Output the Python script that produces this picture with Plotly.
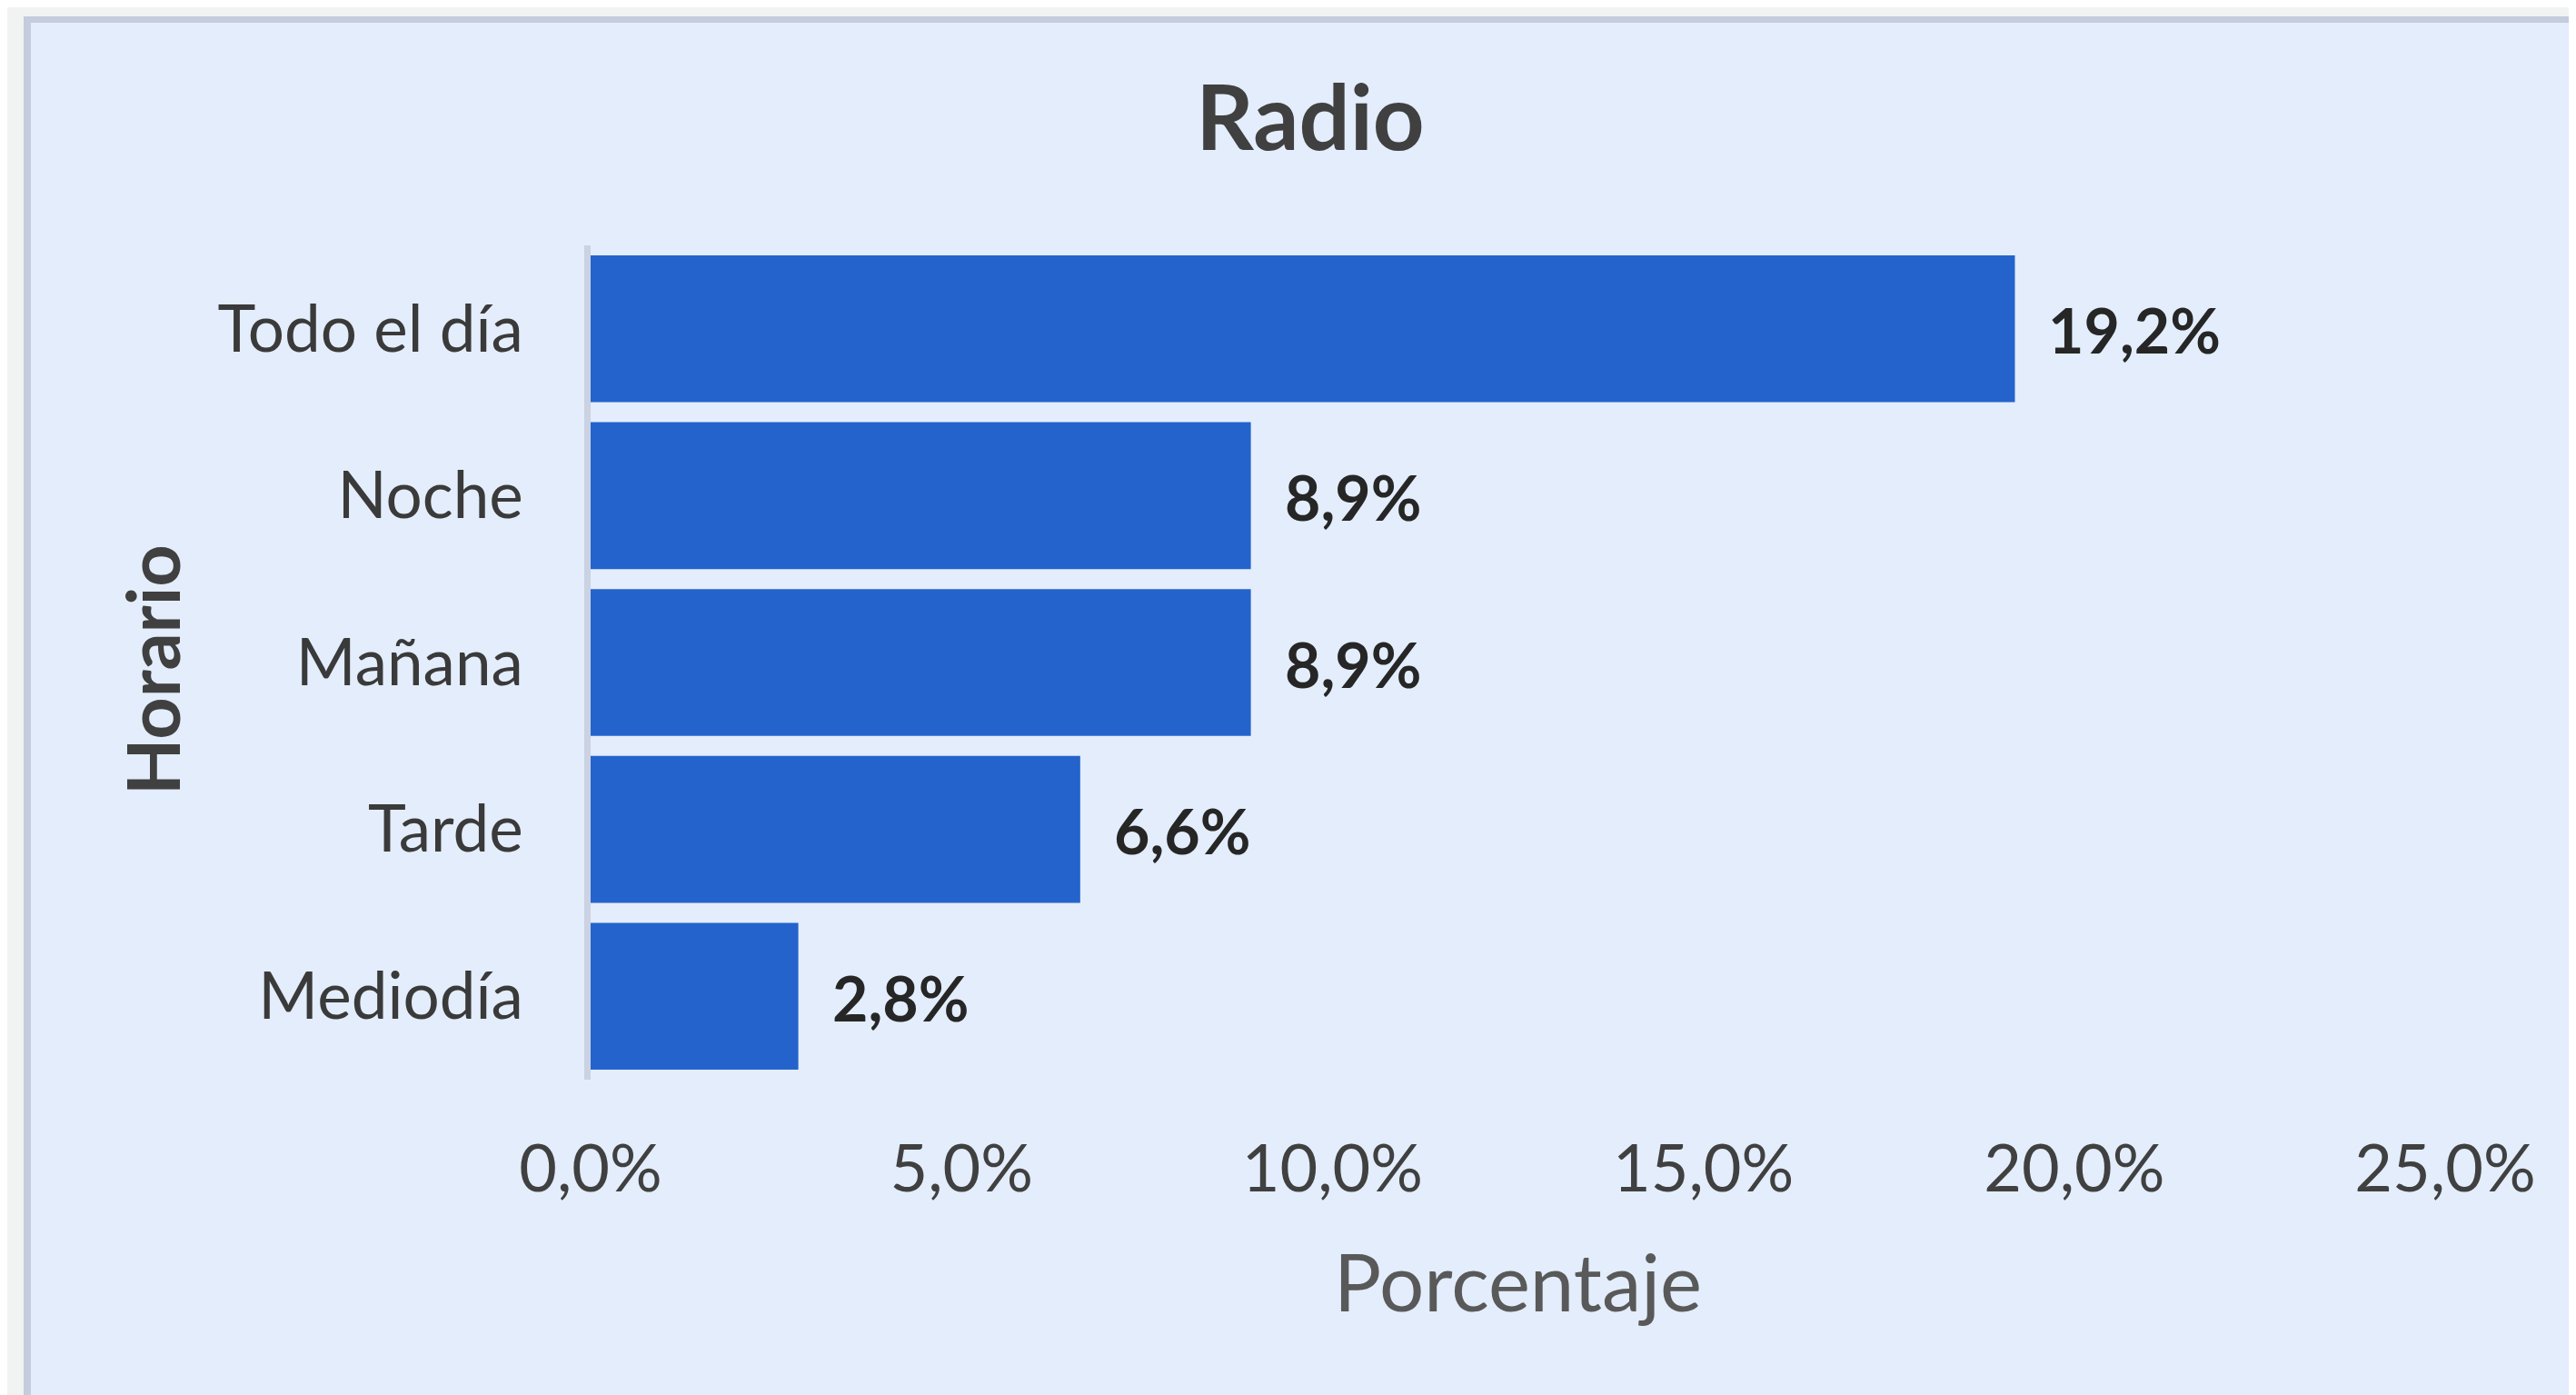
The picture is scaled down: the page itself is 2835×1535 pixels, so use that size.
import plotly.graph_objects as go

# ---- data ----
categories = ["Todo el día", "Noche", "Mañana", "Tarde", "Mediodía"]
values = [19.2, 8.9, 8.9, 6.6, 2.8]
tick_values = [0, 5, 10, 15, 20, 25]
tick_labels = ["0,0%", "5,0%", "10,0%", "15,0%", "20,0%", "25,0%"]
title_text = "Radio"
x_title = "Porcentaje"
y_title = "Horario"

# ---- layout geometry (pixels) ----
W, H = 2835, 1535
L, R, T, B = 642, 2683, 262, 1180
PW, PH = R - L, B - T


def px(x):
    return (x - L) / PW


def py(y):
    return (B - y) / PH


FONT = "Lato, 'Open Sans', sans-serif"
BAR = "#2463CC"
PANEL = "#E3EDFB"
OUTSIDE = "#F1F3F2"
EDGE = "#C5CCDD"


def fmt(v):
    return f"{v:.1f}".replace(".", ",") + "%"


fig = go.Figure()
fig.add_trace(go.Bar(
    x=values,
    y=categories,
    orientation="h",
    marker=dict(color=BAR, line=dict(width=0)),
    width=0.88,
    hoverinfo="skip",
))

annotations = []
for c, v in zip(categories, values):
    annotations.append(dict(
        x=v, y=c, xref="x", yref="y", text=fmt(v), showarrow=False,
        xanchor="left", yanchor="middle", xshift=35, yshift=-1,
        font=dict(family=FONT, size=68, color="#262626", weight="bold"),
    ))

annotations.append(dict(
    x=px(1662), y=py(1401), xref="paper", yref="paper", text=x_title,
    showarrow=False, xanchor="center", yanchor="middle",
    font=dict(family=FONT, size=87, color="#595959"),
))
annotations.append(dict(
    x=px(158), y=py(729), xref="paper", yref="paper", text=y_title,
    showarrow=False, xanchor="center", yanchor="middle", textangle=-90,
    font=dict(family=FONT, size=81, color="#404040", weight="bold"),
))

shapes = [
    dict(type="rect", xref="paper", yref="paper", x0=px(-5), x1=px(18), y0=py(1545), y1=py(-5),
         fillcolor=OUTSIDE, line=dict(width=0), layer="below"),
    dict(type="rect", xref="paper", yref="paper", x0=px(-5), x1=px(2845), y0=py(10), y1=py(-5),
         fillcolor=OUTSIDE, line=dict(width=0), layer="below"),
    dict(type="rect", xref="paper", yref="paper", x0=px(18), x1=px(26), y0=py(1545), y1=py(10),
         fillcolor=EDGE, line=dict(width=0), layer="below"),
    dict(type="rect", xref="paper", yref="paper", x0=px(18), x1=px(2845), y0=py(17), y1=py(10),
         fillcolor=EDGE, line=dict(width=0), layer="below"),
]

fig.update_layout(
    width=W, height=H,
    margin=dict(l=L, r=W - R, t=T, b=H - B, pad=0),
    paper_bgcolor=PANEL,
    plot_bgcolor="rgba(0,0,0,0)",
    showlegend=False,
    separators=",.",
    title=dict(
        text=f"<b>{title_text}</b>", x=1434 / W, xanchor="center", xref="container",
        y=1 - 122 / H, yanchor="middle", yref="container",
        font=dict(family=FONT, size=99, color="#404040"),
    ),
    xaxis=dict(
        range=[0, 25], tickmode="array", tickvals=tick_values, ticktext=tick_labels,
        showgrid=False, zeroline=False, showline=False,
        ticks="outside", ticklen=36, tickcolor="rgba(0,0,0,0)",
        tickfont=dict(family=FONT, size=72, color="#404040"),
        fixedrange=True,
    ),
    yaxis=dict(
        categoryorder="array", categoryarray=categories, autorange="reversed",
        showgrid=False, zeroline=False, showline=True, linecolor="#CBD2E2", linewidth=7,
        ticks="outside", ticklen=53, tickcolor="rgba(0,0,0,0)",
        tickfont=dict(family=FONT, size=71, color="#3A3A3A"),
        fixedrange=True,
    ),
    annotations=annotations,
    shapes=shapes,
)

fig.write_html("out.html")
